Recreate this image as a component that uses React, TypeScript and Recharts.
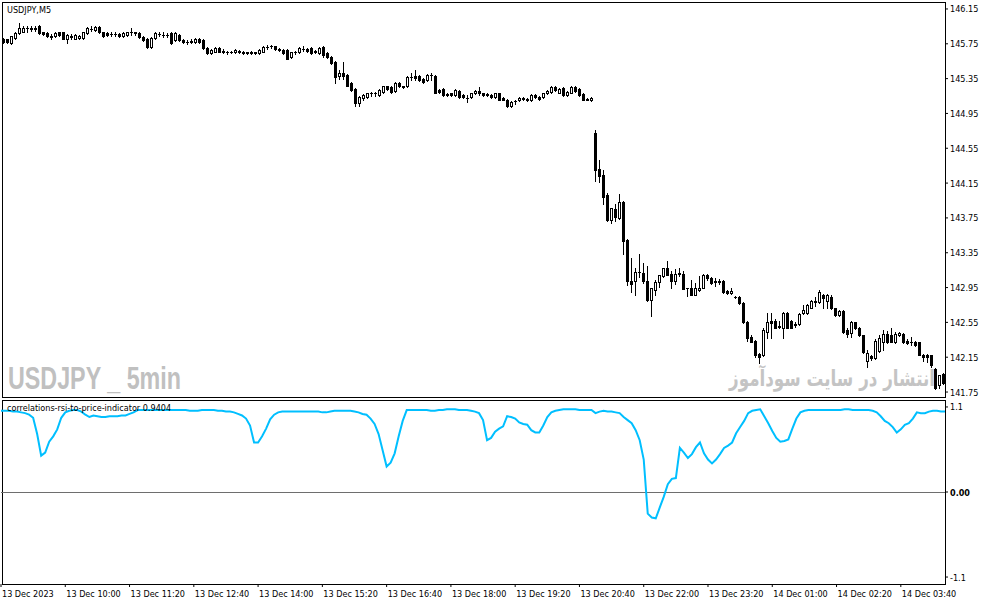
import React from "react";
import { ComposedChart, Bar, Line, XAxis, YAxis, ReferenceLine } from "recharts";

// USDJPY M5 candles
const open = [
  145.81, 145.80, 145.76, 145.82, 145.87, 145.89, 145.93, 145.93, 145.92, 145.95,
  145.88, 145.87, 145.84, 145.84, 145.88, 145.88, 145.81, 145.84, 145.81, 145.82,
  145.82, 145.87, 145.92, 145.91, 145.94, 145.88, 145.87, 145.86, 145.86, 145.86,
  145.84, 145.85, 145.89, 145.88, 145.87, 145.83, 145.81, 145.71, 145.82, 145.86,
  145.85, 145.85, 145.87, 145.79, 145.85, 145.79, 145.77, 145.77, 145.77, 145.81,
  145.79, 145.70, 145.64, 145.66, 145.70, 145.67, 145.65, 145.66, 145.65, 145.67,
  145.66, 145.65, 145.65, 145.65, 145.64, 145.66, 145.71, 145.72, 145.72, 145.69,
  145.68, 145.68, 145.60, 145.65, 145.65, 145.69, 145.69, 145.70, 145.67, 145.64,
  145.71, 145.64, 145.60, 145.54, 145.38, 145.42, 145.39, 145.30, 145.23, 145.07,
  145.13, 145.14, 145.18, 145.18, 145.16, 145.20, 145.26, 145.25, 145.21, 145.30,
  145.26, 145.26, 145.37, 145.38, 145.38, 145.35, 145.33, 145.39, 145.38, 145.22,
  145.23, 145.17, 145.18, 145.16, 145.21, 145.16, 145.13, 145.14, 145.18, 145.21,
  145.18, 145.17, 145.16, 145.14, 145.18, 145.13, 145.11, 145.03, 145.09, 145.10,
  145.13, 145.12, 145.10, 145.16, 145.14, 145.14, 145.18, 145.20, 145.25, 145.19,
  145.24, 145.16, 145.19, 145.25, 145.23, 145.17, 145.12, 145.10, 144.72, 144.31,
  144.24, 144.01, 143.73, 143.85, 143.75, 143.93, 143.50, 143.03, 143.02, 143.13,
  143.12, 143.03, 142.81, 142.92, 143.01, 143.08, 143.18, 143.11, 143.02, 143.11,
  143.11, 142.95, 142.95, 142.86, 142.92, 142.94, 143.10, 143.06, 143.02, 143.02,
  143.03, 142.91, 142.89, 142.84, 142.84, 142.77, 142.56, 142.38, 142.34, 142.19,
  142.17, 142.44, 142.57, 142.57, 142.51, 142.49, 142.66, 142.57, 142.53, 142.53,
  142.66, 142.66, 142.72, 142.80, 142.78, 142.86, 142.80, 142.84, 142.71, 142.63,
  142.68, 142.46, 142.43, 142.55, 142.49, 142.40, 142.11, 142.16, 142.14, 142.22,
  142.32, 142.42, 142.40, 142.32, 142.40, 142.42, 142.34, 142.32, 142.33, 142.32,
  142.17, 142.17, 142.17, 142.02, 141.83, 141.96,
];
const high = [
  145.82, 145.81, 145.84, 145.88, 145.99, 145.95, 145.96, 145.96, 145.95, 145.97,
  145.89, 145.88, 145.86, 145.88, 145.89, 145.89, 145.86, 145.86, 145.86, 145.85,
  145.89, 145.94, 145.95, 145.95, 145.95, 145.89, 145.88, 145.89, 145.88, 145.87,
  145.88, 145.89, 145.93, 145.89, 145.88, 145.84, 145.82, 145.83, 145.88, 145.89,
  145.88, 145.87, 145.88, 145.88, 145.86, 145.80, 145.79, 145.80, 145.82, 145.82,
  145.80, 145.71, 145.69, 145.71, 145.71, 145.69, 145.67, 145.67, 145.69, 145.68,
  145.67, 145.66, 145.67, 145.66, 145.69, 145.72, 145.74, 145.74, 145.73, 145.70,
  145.69, 145.69, 145.66, 145.67, 145.71, 145.72, 145.70, 145.71, 145.68, 145.71,
  145.72, 145.65, 145.61, 145.55, 145.45, 145.54, 145.40, 145.31, 145.24, 145.15,
  145.17, 145.19, 145.20, 145.20, 145.23, 145.27, 145.27, 145.26, 145.31, 145.31,
  145.27, 145.38, 145.41, 145.45, 145.39, 145.36, 145.40, 145.41, 145.39, 145.23,
  145.24, 145.19, 145.19, 145.23, 145.22, 145.17, 145.16, 145.19, 145.22, 145.25,
  145.19, 145.18, 145.17, 145.19, 145.19, 145.14, 145.12, 145.09, 145.11, 145.14,
  145.14, 145.13, 145.17, 145.17, 145.15, 145.19, 145.22, 145.27, 145.26, 145.24,
  145.25, 145.21, 145.26, 145.26, 145.24, 145.18, 145.13, 145.14, 144.76, 144.41,
  144.30, 144.04, 143.86, 143.91, 144.02, 143.95, 143.51, 143.29, 143.18, 143.33,
  143.23, 143.20, 142.94, 143.04, 143.09, 143.18, 143.26, 143.14, 143.16, 143.18,
  143.14, 142.95, 143.04, 143.00, 143.08, 143.11, 143.11, 143.07, 143.06, 143.05,
  143.04, 142.92, 142.95, 142.85, 142.85, 142.78, 142.57, 142.40, 142.35, 142.20,
  142.48, 142.66, 142.66, 142.59, 142.57, 142.67, 142.67, 142.58, 142.55, 142.66,
  142.75, 142.76, 142.81, 142.84, 142.92, 142.88, 142.88, 142.86, 142.72, 142.69,
  142.69, 142.48, 142.57, 142.56, 142.50, 142.41, 142.23, 142.18, 142.36, 142.40,
  142.46, 142.45, 142.48, 142.44, 142.44, 142.43, 142.36, 142.38, 142.34, 142.33,
  142.19, 142.19, 142.18, 142.03, 141.95, 141.97,
];
const low = [
  145.76, 145.76, 145.75, 145.81, 145.86, 145.88, 145.89, 145.90, 145.90, 145.86,
  145.85, 145.83, 145.81, 145.83, 145.84, 145.80, 145.76, 145.81, 145.80, 145.81,
  145.81, 145.86, 145.90, 145.90, 145.87, 145.83, 145.84, 145.84, 145.84, 145.83,
  145.83, 145.84, 145.85, 145.85, 145.82, 145.78, 145.70, 145.70, 145.81, 145.84,
  145.83, 145.83, 145.75, 145.78, 145.78, 145.76, 145.75, 145.76, 145.76, 145.76,
  145.69, 145.63, 145.63, 145.65, 145.65, 145.64, 145.63, 145.64, 145.64, 145.64,
  145.63, 145.63, 145.63, 145.63, 145.63, 145.65, 145.69, 145.70, 145.68, 145.67,
  145.63, 145.57, 145.59, 145.63, 145.64, 145.67, 145.66, 145.63, 145.64, 145.63,
  145.60, 145.59, 145.52, 145.30, 145.35, 145.35, 145.26, 145.21, 145.03, 145.03,
  145.11, 145.13, 145.15, 145.15, 145.15, 145.19, 145.22, 145.19, 145.20, 145.25,
  145.24, 145.25, 145.33, 145.33, 145.32, 145.30, 145.32, 145.33, 145.18, 145.18,
  145.15, 145.15, 145.15, 145.15, 145.13, 145.13, 145.08, 145.13, 145.17, 145.16,
  145.15, 145.15, 145.13, 145.13, 145.10, 145.10, 145.02, 145.02, 145.06, 145.09,
  145.11, 145.09, 145.09, 145.13, 145.11, 145.13, 145.17, 145.19, 145.21, 145.18,
  145.15, 145.15, 145.18, 145.20, 145.15, 145.10, 145.10, 145.09, 144.17, 144.16,
  143.91, 143.72, 143.69, 143.71, 143.74, 143.34, 142.98, 142.90, 142.86, 143.07,
  143.00, 142.80, 142.62, 142.87, 142.96, 143.07, 143.10, 142.94, 142.99, 143.08,
  142.93, 142.85, 142.86, 142.86, 142.91, 142.94, 143.04, 142.99, 142.97, 142.99,
  142.89, 142.88, 142.88, 142.83, 142.76, 142.54, 142.34, 142.32, 142.15, 142.08,
  142.16, 142.37, 142.37, 142.48, 142.48, 142.37, 142.48, 142.48, 142.50, 142.52,
  142.65, 142.65, 142.71, 142.74, 142.77, 142.72, 142.72, 142.70, 142.62, 142.62,
  142.43, 142.38, 142.38, 142.47, 142.39, 142.20, 142.04, 142.12, 142.13, 142.21,
  142.23, 142.31, 142.32, 142.31, 142.39, 142.31, 142.30, 142.29, 142.28, 142.17,
  142.11, 142.09, 142.04, 141.79, 141.80, 141.84,
];
const close = [
  145.77, 145.77, 145.84, 145.87, 145.93, 145.93, 145.93, 145.92, 145.93, 145.87,
  145.86, 145.84, 145.83, 145.87, 145.85, 145.81, 145.85, 145.83, 145.85, 145.84,
  145.88, 145.93, 145.92, 145.94, 145.88, 145.84, 145.85, 145.86, 145.86, 145.84,
  145.87, 145.88, 145.89, 145.87, 145.83, 145.79, 145.71, 145.82, 145.87, 145.86,
  145.85, 145.85, 145.76, 145.87, 145.79, 145.77, 145.77, 145.78, 145.81, 145.77,
  145.70, 145.64, 145.68, 145.70, 145.66, 145.66, 145.65, 145.65, 145.68, 145.65,
  145.64, 145.64, 145.64, 145.64, 145.68, 145.71, 145.71, 145.72, 145.69, 145.68,
  145.64, 145.58, 145.65, 145.65, 145.70, 145.69, 145.67, 145.64, 145.65, 145.70,
  145.62, 145.60, 145.53, 145.37, 145.42, 145.38, 145.27, 145.22, 145.07, 145.14,
  145.16, 145.18, 145.18, 145.18, 145.22, 145.26, 145.23, 145.20, 145.30, 145.26,
  145.25, 145.37, 145.37, 145.36, 145.33, 145.31, 145.39, 145.39, 145.19, 145.20,
  145.16, 145.16, 145.16, 145.22, 145.14, 145.14, 145.13, 145.18, 145.21, 145.18,
  145.16, 145.16, 145.14, 145.18, 145.11, 145.11, 145.03, 145.08, 145.09, 145.13,
  145.12, 145.10, 145.16, 145.14, 145.12, 145.18, 145.21, 145.25, 145.22, 145.23,
  145.16, 145.20, 145.25, 145.21, 145.16, 145.11, 145.11, 145.13, 144.30, 144.23,
  143.99, 143.73, 143.86, 143.76, 143.93, 143.49, 143.02, 142.99, 143.13, 143.13,
  143.02, 142.81, 142.94, 143.01, 143.09, 143.18, 143.10, 143.02, 143.11, 143.12,
  142.93, 142.94, 142.86, 142.94, 142.95, 143.10, 143.06, 143.00, 143.01, 143.01,
  142.90, 142.89, 142.91, 142.84, 142.77, 142.55, 142.37, 142.33, 142.17, 142.15,
  142.46, 142.55, 142.54, 142.49, 142.50, 142.66, 142.49, 142.49, 142.52, 142.65,
  142.69, 142.75, 142.80, 142.78, 142.90, 142.83, 142.86, 142.71, 142.63, 142.68,
  142.44, 142.42, 142.55, 142.48, 142.40, 142.21, 142.20, 142.14, 142.34, 142.37,
  142.42, 142.32, 142.32, 142.42, 142.43, 142.32, 142.31, 142.33, 142.29, 142.18,
  142.15, 142.15, 142.06, 141.80, 141.94, 141.85,
];

// correlations-rsi-to-price-indicator values
const corr = [
  1.05, 1.05, 1.05, 1.04, 1.04, 1.03, 1.02, 1.0, 0.96, 0.75,
  0.47, 0.51, 0.65, 0.72, 0.81, 0.96, 1.03, 1.05, 1.06, 1.06,
  1.04, 1.0, 0.97, 0.99, 0.98, 0.97, 0.97, 0.98, 0.98, 0.98,
  0.99, 0.99, 1.01, 1.03, 1.06, 1.06, 1.06, 1.06, 1.06, 1.06,
  1.06, 1.06, 1.06, 1.06, 1.06, 1.06, 1.06, 1.05, 1.05, 1.05,
  1.06, 1.06, 1.06, 1.06, 1.05, 1.05, 1.04, 1.04, 1.03, 1.01,
  0.99, 0.95, 0.86, 0.64, 0.64, 0.72, 0.82, 0.94, 1.0, 1.03,
  1.04, 1.04, 1.04, 1.04, 1.04, 1.04, 1.04, 1.04, 1.04, 1.04,
  1.03, 1.03, 1.04, 1.05, 1.05, 1.05, 1.05, 1.05, 1.04, 1.03,
  1.01, 1.0, 0.95, 0.88, 0.75, 0.54, 0.33, 0.38, 0.5, 0.72,
  0.92, 1.06, 1.06, 1.06, 1.06, 1.06, 1.06, 1.05, 1.05, 1.06,
  1.06, 1.07, 1.07, 1.07, 1.06, 1.06, 1.06, 1.05, 1.04, 1.02,
  0.93, 0.67, 0.7, 0.78, 0.82, 0.85, 0.98, 0.97, 0.95, 0.9,
  0.88, 0.87, 0.8, 0.77, 0.77, 0.86, 0.97, 1.03, 1.05, 1.06,
  1.07, 1.07, 1.07, 1.07, 1.06, 1.06, 1.06, 1.06, 1.02, 1.04,
  1.05, 1.04, 1.04, 1.03, 1.02, 0.97, 0.93, 0.89, 0.8, 0.67,
  0.42, -0.28, -0.33, -0.34, -0.2, -0.06, 0.1, 0.17, 0.18, 0.57,
  0.51, 0.44, 0.49, 0.58, 0.64, 0.5, 0.42, 0.37, 0.42, 0.49,
  0.57, 0.6, 0.64, 0.76, 0.84, 0.92, 1.02, 1.05, 1.06, 1.07,
  0.98, 0.89, 0.79, 0.7, 0.65, 0.66, 0.68, 0.82, 0.95, 1.03,
  1.05, 1.06, 1.06, 1.06, 1.06, 1.06, 1.06, 1.06, 1.06, 1.06,
  1.07, 1.07, 1.06, 1.06, 1.06, 1.06, 1.06, 1.05, 1.03, 0.98,
  0.92, 0.89, 0.84, 0.77, 0.81, 0.87, 0.89, 0.95, 1.03, 1.02,
  1.02, 1.04, 1.05, 1.05, 1.04, 1.04,
];

const timeLabels = [
  "13 Dec 2023", "13 Dec 10:00", "13 Dec 11:20", "13 Dec 12:40", "13 Dec 14:00",
  "13 Dec 15:20", "13 Dec 16:40", "13 Dec 18:00", "13 Dec 19:20", "13 Dec 20:40",
  "13 Dec 22:00", "13 Dec 23:20", "14 Dec 01:00", "14 Dec 02:20", "14 Dec 03:40",
];
const labelBars = [0, 16, 32, 48, 64, 80, 96, 112, 128, 144, 160, 176, 192, 208, 224];
const priceTicks = [146.15, 145.75, 145.35, 144.95, 144.55, 144.15, 143.75, 143.35, 142.95, 142.55, 142.15, 141.75];
const corrTicks = [1.1, 0, -1.1];

const rows = close.map((c, i) => ({
  i,
  range: [low[i], high[i]],
  o: open[i],
  h: high[i],
  l: low[i],
  c,
  corr: corr[i],
}));

const FONT = "Tahoma, 'DejaVu Sans Condensed', 'Liberation Sans', Arial, sans-serif";

function Candle(props: any) {
  const { x, y, width, height, payload } = props;
  if (!payload) return null;
  const { o, h, l, c } = payload;
  const top = Math.min(y, y + height);
  const span = Math.abs(height);
  const py = (v: number) => (h === l ? top : top + ((h - v) / (h - l)) * span);
  const cx = Math.floor(x + width / 2);
  const yH = Math.round(py(h));
  const yL = Math.round(py(l));
  const bTop = Math.round(py(Math.max(o, c)));
  const bBot = Math.round(py(Math.min(o, c)));

  if (c < o || bBot - bTop < 2) {
    return (
      <g>
        <rect x={cx} y={yH} width={1} height={yL - yH + 1} fill="#000" />
        <rect x={cx - 1} y={bTop} width={3} height={bBot - bTop + 1} fill="#000" />
      </g>
    );
  }
  return (
    <g>
      <rect x={cx} y={yH} width={1} height={bTop - yH} fill="#000" />
      <rect x={cx} y={bBot} width={1} height={yL - bBot + 1} fill="#000" />
      <rect x={cx - 0.5} y={bTop + 0.5} width={2} height={bBot - bTop} fill="#fff" stroke="#000" strokeWidth={1} />
    </g>
  );
}

function PriceTick({ y, payload }: any) {
  return (
    <text x={950} y={y} dy={3.5} fontSize={9} fontFamily={FONT} fill="#000">
      {Number(payload.value).toFixed(2)}
    </text>
  );
}

function CorrTick({ y, payload }: any) {
  const v = Number(payload.value);
  return (
    <text x={950} y={y} dy={3.5} fontSize={9} fontFamily={FONT} fill="#000" fontWeight={v === 0 ? "bold" : "normal"}>
      {v === 0 ? "0.00" : v.toFixed(1)}
    </text>
  );
}

function TimeTick({ x, payload }: any) {
  const k = labelBars.indexOf(Number(payload.value));
  return (
    <text x={x + 1} y={199} fontSize={9} fontFamily={FONT} fill="#000">
      {timeLabels[k]}
    </text>
  );
}

export default function App() {
  return (
    <div style={{ position: "relative", width: 987, height: 605, background: "#fff", overflow: "hidden" }}>
      <style>{"body{margin:0}"}</style>
      <div style={{ position: "absolute", left: 2, top: 2, width: 944, height: 396, border: "1px solid #000", boxSizing: "border-box" }} />
      <div style={{ position: "absolute", left: 2, top: 400, width: 944, height: 185, border: "1px solid #000", boxSizing: "border-box" }} />

      <div style={{ position: "absolute", left: 0, top: 0 }}>
        <ComposedChart width={987} height={400} data={rows} margin={{ top: 2, right: 0, bottom: 3, left: 1 }} barCategoryGap={0}>
          <XAxis dataKey="i" hide />
          <YAxis
            orientation="right"
            width={42}
            type="number"
            domain={[141.693, 146.23]}
            allowDataOverflow
            ticks={priceTicks}
            interval={0}
            axisLine={false}
            tickSize={3}
            tickLine={{ stroke: "#000" }}
            tick={<PriceTick />}
          />
          <Bar dataKey="range" shape={<Candle />} isAnimationActive={false} />
        </ComposedChart>
      </div>

      <div style={{ position: "absolute", left: 0, top: 398 }}>
        <ComposedChart width={987} height={207} data={rows} margin={{ top: 2, right: 0, bottom: 0, left: 1 }}>
          <XAxis
            dataKey="i"
            ticks={labelBars}
            interval={0}
            height={21}
            axisLine={false}
            tickSize={3}
            tickLine={{ stroke: "#000" }}
            tick={<TimeTick />}
          />
          <YAxis
            orientation="right"
            width={42}
            type="number"
            domain={[-1.19, 1.19]}
            allowDataOverflow
            ticks={corrTicks}
            interval={0}
            axisLine={false}
            tickSize={3}
            tickLine={{ stroke: "#000" }}
            tick={<CorrTick />}
          />
          <ReferenceLine y={0} stroke="#6e6e6e" strokeWidth={1} shapeRendering="crispEdges" />
          <Line type="linear" dataKey="corr" stroke="#00BFFF" strokeWidth={2} dot={false} isAnimationActive={false} />
        </ComposedChart>
      </div>

      <svg width={987} height={605} style={{ position: "absolute", left: 0, top: 0, pointerEvents: "none" }}>
        <text x={7} y={13} fontSize={9} fontFamily={FONT} fill="#000">USDJPY,M5</text>
        <text
          x={8}
          y={389}
          fontSize={31}
          fontWeight="bold"
          fontFamily="'Liberation Sans Narrow', 'Liberation Sans', Arial, sans-serif"
          fill="#c0c0c0"
          textLength={173}
          lengthAdjust="spacingAndGlyphs"
        >
          USDJPY _ 5min
        </text>
        <text
          x={729}
          y={386}
          fontSize={22}
          fontWeight="bold"
          fontFamily="'DejaVu Sans', sans-serif"
          fill="#c4c4c4"
          textLength={206}
          lengthAdjust="spacingAndGlyphs"
        >
          انتشار در سایت سودآموز
        </text>
        <text x={7} y={411} fontSize={9} fontFamily={FONT} fill="#000">correlations-rsi-to-price-indicator 0.9404</text>
      </svg>
    </div>
  );
}
